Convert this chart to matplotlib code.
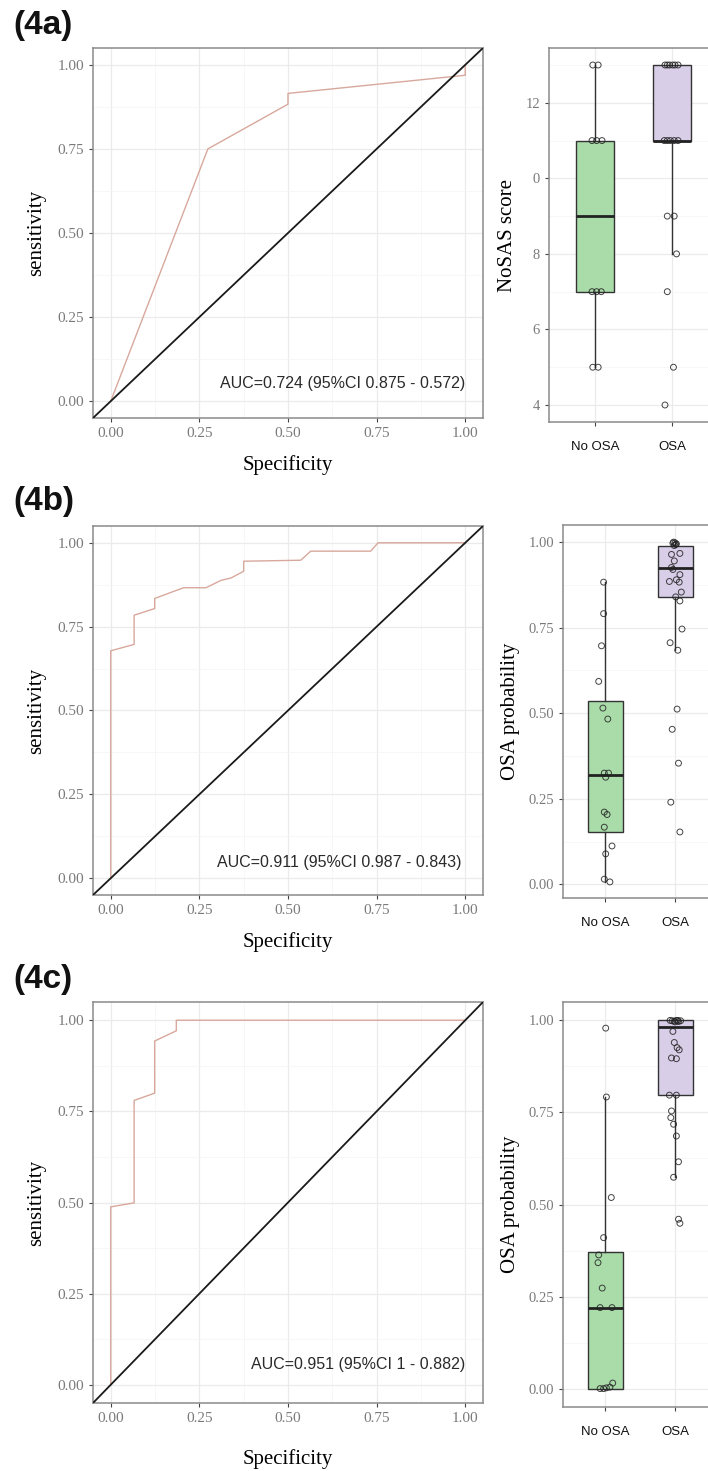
import matplotlib
matplotlib.use("Agg")
import matplotlib.pyplot as plt
from matplotlib.ticker import MultipleLocator
import numpy as np

# ── data ───────────────────────────────────────────────────────────────────
panel_tags = ["(4a)", "(4b)", "(4c)"]
auc_texts = ["AUC=0.724 (95%CI 0.875 - 0.572)",
             "AUC=0.911 (95%CI 0.987 - 0.843)",
             "AUC=0.951 (95%CI 1 - 0.882)"]

roc_a_spec = [0, 0.274, 0.5, 0.5, 1.0, 1.0]
roc_a_sens = [0, 0.75, 0.883, 0.915, 0.969, 1.0]

roc_b_spec = [0, 0, 0.066, 0.066, 0.124, 0.124, 0.185, 0.206, 0.269, 0.311,
              0.339, 0.375, 0.375, 0.536, 0.564, 0.733, 0.754, 1.0]
roc_b_sens = [0, 0.678, 0.697, 0.784, 0.804, 0.834, 0.858, 0.866, 0.866, 0.888,
              0.895, 0.915, 0.945, 0.948, 0.975, 0.975, 1.0, 1.0]

roc_c_spec = [0, 0, 0.066, 0.066, 0.124, 0.124, 0.185, 0.185, 1.0]
roc_c_sens = [0, 0.488, 0.499, 0.78, 0.80, 0.943, 0.971, 1.0, 1.0]

groups = ["No OSA", "OSA"]

# box stats per group: (whislo, q1, med, q3, whishi)
box_a = [(5, 7, 9, 11, 13), (8, 11, 11, 13, 13)]
box_b = [(0.007, 0.153, 0.318, 0.536, 0.883), (0.684, 0.840, 0.925, 0.99, 1.0)]
box_c = [(0.0, 0.0, 0.22, 0.372, 0.792), (0.574, 0.797, 0.982, 1.0, 1.0)]

# jittered points (value, horizontal jitter as read)
a_no_y = [13, 13, 11, 11, 11, 7, 7, 7, 5, 5]
a_no_j = [-0.03, 0.04, -0.04, 0.02, 0.09, -0.04, 0.02, 0.08, -0.03, 0.04]
a_osa_y = [13, 13, 13, 13, 13, 13, 11, 11, 11, 11, 11, 9, 9, 8, 7, 5, 4]
a_osa_j = [-0.09, -0.06, -0.03, 0.01, 0.04, 0.08, -0.10, -0.06, -0.02, 0.03,
           0.08, -0.06, 0.03, 0.06, -0.06, 0.02, -0.09]

b_no_y = [0.883, 0.791, 0.697, 0.593, 0.515, 0.483, 0.325, 0.325, 0.313,
          0.211, 0.204, 0.167, 0.112, 0.089, 0.015, 0.007]
b_no_j = [-0.02, -0.02, -0.05, -0.09, -0.03, 0.04, -0.01, 0.05, 0.01,
          -0.01, 0.03, -0.01, 0.10, 0.01, -0.01, 0.07]
b_osa_y = [1.0, 0.998, 0.995, 0.99, 0.993, 0.997, 0.964, 0.967, 0.945, 0.926,
           0.92, 0.905, 0.885, 0.883, 0.89, 0.84, 0.854, 0.828, 0.746, 0.706,
           0.684, 0.512, 0.453, 0.354, 0.240, 0.153]
b_osa_j = [-0.02, 0.0, 0.02, -0.01, 0.01, -0.03, -0.05, 0.07, -0.01, -0.05,
           -0.03, 0.07, -0.08, 0.06, 0.02, 0.01, 0.09, 0.07, 0.10, -0.07,
           0.04, 0.03, -0.04, 0.05, -0.06, 0.07]

c_no_y = [0.979, 0.792, 0.519, 0.41, 0.363, 0.342, 0.273, 0.22, 0.22,
          0.0, 0.0, 0.002, 0.004, 0.015]
c_no_j = [0.01, 0.02, 0.09, -0.02, -0.09, -0.10, -0.04, -0.07, 0.10,
          -0.07, -0.02, 0.02, 0.07, 0.11]
c_osa_y = [1.0, 0.999, 0.998, 1.0, 0.997, 0.999, 0.996, 1.0, 0.97, 0.94,
           0.926, 0.92, 0.898, 0.896, 0.797, 0.797, 0.754, 0.736, 0.718,
           0.686, 0.616, 0.574, 0.46, 0.449]
c_osa_j = [-0.07, -0.04, -0.01, 0.02, 0.05, 0.08, 0.0, 0.04, -0.03, -0.01,
           0.03, 0.06, -0.05, 0.02, -0.08, 0.02, -0.05, -0.06, -0.02,
           0.02, 0.05, -0.02, 0.05, 0.07]

# ── style ──────────────────────────────────────────────────────────────────
SERIF = ["Liberation Serif", "DejaVu Serif"]
SANS = ["Liberation Sans", "DejaVu Sans"]
TAG = ["Liberation Sans Narrow", "Liberation Sans", "DejaVu Sans"]
GRID_MAJ = "#ebebeb"
GRID_MIN = "#f4f4f4"
BORDER = "#8a8a8a"
TICKLAB = "#7a7a7a"
ROC_COL = "#d8a89c"
FILLS = ["#aadcaa", "#d8cee7"]

W, H = 708, 1471
fig = plt.figure(figsize=(W / 100, H / 100), dpi=100)


def frac(left, top, right, bottom):
    return [left / W, 1 - bottom / H, (right - left) / W, (bottom - top) / H]


def style_axes(ax):
    for s in ax.spines.values():
        s.set_color(BORDER)
        s.set_linewidth(1.1)
    ax.grid(which="major", color=GRID_MAJ, lw=0.9, zorder=0)
    ax.grid(which="minor", color=GRID_MIN, lw=0.5, zorder=0)
    ax.set_axisbelow(True)
    ax.tick_params(which="major", length=3, width=0.8, color="#444444")
    ax.tick_params(which="minor", length=0)


def roc_panel(rect, spec, sens, auc, auc_x, auc_y, xpad):
    ax = fig.add_axes(frac(*rect))
    style_axes(ax)
    ax.set_xlim(-0.05, 1.05)
    ax.set_ylim(-0.05, 1.05)
    ax.xaxis.set_major_locator(MultipleLocator(0.25))
    ax.yaxis.set_major_locator(MultipleLocator(0.25))
    ax.xaxis.set_minor_locator(MultipleLocator(0.125))
    ax.yaxis.set_minor_locator(MultipleLocator(0.125))
    ax.set_xticks(ax.get_xticks())
    ax.set_xticklabels([f"{v:.2f}" for v in ax.get_xticks()])
    ax.set_yticklabels([f"{v:.2f}" for v in ax.get_yticks()])
    ax.set_xlim(-0.05, 1.05)
    ax.set_ylim(-0.05, 1.05)
    for lab in ax.get_xticklabels() + ax.get_yticklabels():
        lab.set_family(SERIF)
        lab.set_fontsize(11)
        lab.set_color(TICKLAB)
    ax.plot(spec, sens, color=ROC_COL, lw=1.0, zorder=3)
    ax.axline((0, 0), (1, 1), color="#1a1a1a", lw=1.3, zorder=4)
    ax.text(auc_x, auc_y, auc, ha="right", va="center", family=SANS,
            fontsize=11.5, color="#2a2a2a", zorder=5)
    ax.set_xlabel("Specificity", family=SERIF, fontsize=15, labelpad=xpad)
    ax.set_ylabel("sensitivity", family=SERIF, fontsize=15, labelpad=8)
    return ax


def box_panel(rect, stats, pts, ylim, ylabel, major, yfmt, ylabels=None):
    ax = fig.add_axes(frac(*rect))
    style_axes(ax)
    bxp_stats = [dict(whislo=s[0], q1=s[1], med=s[2], q3=s[3], whishi=s[4],
                      fliers=[]) for s in stats]
    bp = ax.bxp(bxp_stats, positions=[1, 2], widths=0.5, showcaps=False,
                showfliers=False, patch_artist=True,
                boxprops=dict(edgecolor="#333333", linewidth=1.0),
                whiskerprops=dict(color="#333333", linewidth=1.0),
                medianprops=dict(color="#222222", linewidth=2.0))
    for patch, c in zip(bp["boxes"], FILLS):
        patch.set_facecolor(c)
    for i, (vals, jit) in enumerate(pts):
        ax.scatter(np.add(i + 1, jit), vals, s=18, facecolors="none",
                   edgecolors="#222222", linewidths=0.7, alpha=0.85, zorder=4)
    ax.set_xlim(0.4, 2.6)
    ax.set_ylim(*ylim)
    ax.set_xticks([1, 2])
    ax.set_xticklabels(groups, family=SANS, fontsize=9.5, color="#111111")
    ax.xaxis.set_minor_locator(MultipleLocator(10))
    ax.yaxis.set_major_locator(MultipleLocator(major))
    ax.yaxis.set_minor_locator(MultipleLocator(major / 2))
    ticks = [t for t in ax.get_yticks() if ylim[0] <= t <= ylim[1]]
    ax.set_yticks(ticks)
    ax.set_yticklabels(ylabels if ylabels else [yfmt.format(t) for t in ticks],
                       family=SERIF, fontsize=10.5, color=TICKLAB)
    ax.set_ylim(*ylim)
    ax.tick_params(axis="x", pad=11)
    ax.set_ylabel(ylabel, family=SERIF, fontsize=15, labelpad=6)
    return ax


# ── ROC panels ─────────────────────────────────────────────────────────────
roc_panel((93, 48, 483, 418), roc_a_spec, roc_a_sens, auc_texts[0], 1.0, 0.054, 11)
roc_panel((93, 526, 483, 895), roc_b_spec, roc_b_sens, auc_texts[1], 0.99, 0.047, 11)
roc_panel((93, 1002, 483, 1403), roc_c_spec, roc_c_sens, auc_texts[2], 1.0, 0.055, 17)

# ── box panels (right edge runs off the canvas like the original) ─────────
box_panel((549, 48, 718, 422), box_a, [(a_no_y, a_no_j), (a_osa_y, a_osa_j)],
          (3.55, 13.45), "NoSAS score", 2, "{:.0f}",
          ylabels=["4", "6", "8", "0", "12"])
box_panel((563, 525, 717, 898), box_b, [(b_no_y, b_no_j), (b_osa_y, b_osa_j)],
          (-0.04, 1.05), "OSA probability", 0.25, "{:.2f}")
box_panel((563, 1002, 717, 1407), box_c, [(c_no_y, c_no_j), (c_osa_y, c_osa_j)],
          (-0.05, 1.05), "OSA probability", 0.25, "{:.2f}")

# ── panel tags ─────────────────────────────────────────────────────────────
for tag, ytop in zip(panel_tags, [10, 486, 964]):
    fig.text(13 / W, 1 - ytop / H, tag, ha="left", va="top", family=TAG,
             fontsize=24, fontweight="bold", color="#111111")

fig.savefig("out.png", dpi=100, facecolor="white")
